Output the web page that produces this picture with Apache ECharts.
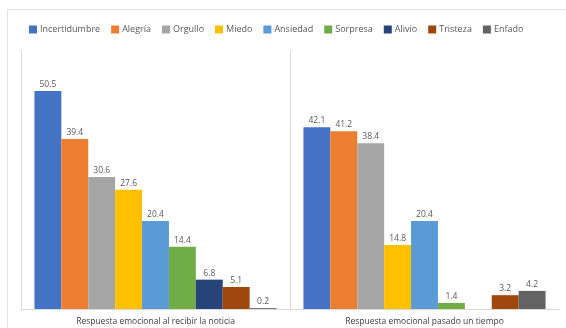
<!DOCTYPE html>
<html><head><meta charset="utf-8">
<script src="https://cdn.jsdelivr.net/npm/echarts@6/dist/echarts.min.js"></script>
<style>html,body{margin:0;padding:0;background:#fff}#c{width:566px;height:328px}</style>
</head><body><div id="c"></div>
<script>
var categories = ['Respuesta emocional al recibir la noticia', 'Respuesta emocional pasado un tiempo'];
var seriesNames = ['Incertidumbre','Alegría','Orgullo','Miedo','Ansiedad','Sorpresa','Alivio','Tristeza','Enfado'];
var incertidumbre = [50.5, 42.1];
var alegria = [39.4, 41.2];
var orgullo = [30.6, 38.4];
var miedo = [27.6, 14.8];
var ansiedad = [20.4, 20.4];
var sorpresa = [14.4, 1.4];
var alivio = [6.8, null];
var tristeza = [5.1, 3.2];
var enfado = [0.2, 4.2];
var colors = ['#4472C4','#ED7D31','#A5A5A5','#FFC000','#5B9BD5','#70AD47','#264478','#9E480E','#636363'];
var values = [incertidumbre, alegria, orgullo, miedo, ansiedad, sorpresa, alivio, tristeza, enfado];

var font = 'Open Sans';
var chart = echarts.init(document.getElementById('c'), null, {renderer:'canvas'});
chart.setOption({
  animation: false,
  color: colors,
  textStyle: {fontFamily: font},
  graphic: [{type:'rect', shape:{x:7.5, y:9.5, width:600, height:400}, style:{fill:'none', stroke:'#e3e3e3', lineWidth:1}, silent:true}],
  legend: {
    left: 29, top: 25, padding: 0, itemWidth: 8, itemHeight: 8, itemGap: 11,
    icon: 'rect',
    textStyle: {fontSize: 9, color: '#595959', fontFamily: font, padding:[0,0,0,-2]},
    data: seriesNames
  },
  grid: {left: 21, right: 7, top: 50, bottom: 19, containLabel: false},
  xAxis: {
    type: 'category', data: categories,
    axisLine: {lineStyle: {color: '#d9d9d9'}},
    axisTick: {show: false},
    splitLine: {show: true, showMaxLine: false, lineStyle: {color: '#d9d9d9'}},
    axisLabel: {fontSize: 8.5, color: '#404040', margin: 8, fontFamily: font}
  },
  yAxis: {type: 'value', min: 0, max: 60, show: false, splitLine: {show: false}},
  series: seriesNames.map(function(n, i){
    return {
      name: n, type: 'bar', data: values[i],
      barGap: '0%', barCategoryGap: '10%',
      label: {show: true, position: 'top', distance: 2, fontSize: 8.5, color: '#595959', fontFamily: font}
    };
  })
});
</script></body></html>
